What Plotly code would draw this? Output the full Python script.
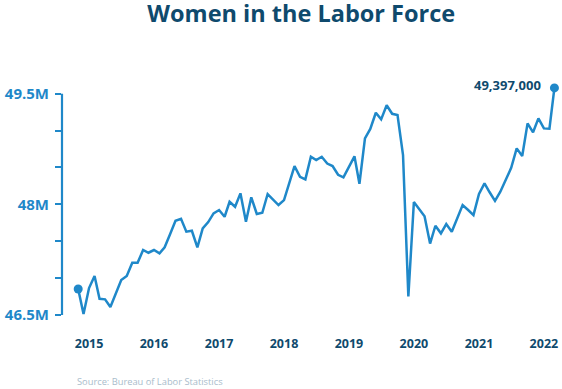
import pandas as pd
import plotly.graph_objects as go

# ---- data (millions), monthly ----
months = pd.date_range("2014-11-01", periods=89, freq="MS")
women_labor_force_m = [
    46.852, 46.513, 46.865, 47.028, 46.720, 46.712, 46.608, 46.798, 46.974, 47.028,
    47.208, 47.208, 47.381, 47.344, 47.381, 47.336, 47.417, 47.597, 47.778, 47.805,
    47.629, 47.642, 47.417, 47.675, 47.760, 47.878, 47.923, 47.832, 48.035, 47.967,
    48.149, 47.764, 48.095, 47.869, 47.886, 48.140, 48.065, 47.991, 48.058, 48.289,
    48.519, 48.374, 48.339, 48.645, 48.601, 48.645, 48.553, 48.519, 48.401, 48.366,
    48.508, 48.651, 48.279, 48.895, 49.023, 49.242, 49.152, 49.343, 49.228, 49.211,
    48.668, 46.750, 48.031, 47.936, 47.837, 47.469, 47.710, 47.607, 47.733, 47.629,
    47.809, 47.991, 47.923, 47.855, 48.142, 48.285, 48.167, 48.047, 48.171, 48.329,
    48.495, 48.759, 48.655, 49.098, 48.977, 49.166, 49.030, 49.025, 49.579,
]
y_tick_vals = [46.5, 47.0, 47.5, 48.0, 48.5, 49.0, 49.5]
y_tick_text = ["46.5M", "", "", "48M", "", "", "49.5M"]
x_tick_vals = ["2015-01-01", "2016-01-01", "2017-01-01", "2018-01-01",
               "2019-01-01", "2020-01-01", "2021-01-01", "2022-01-01"]
x_tick_text = ["2015", "2016", "2017", "2018", "2019", "2020", "2021", "2022"]
last_label = "49,397,000"
title_text = "Women in the Labor Force"
source_text = "Source: Bureau of Labor Statistics"

BLUE = "#1f88c9"
NAVY = "#0f4a6d"
FONT = "'Open Sans', Lato, sans-serif"

fig = go.Figure()
fig.add_trace(go.Scatter(
    x=months, y=women_labor_force_m, mode="lines",
    line=dict(color=BLUE, width=2.5), hoverinfo="skip", showlegend=False,
))
fig.add_trace(go.Scatter(
    x=[months[0], months[-1]], y=[women_labor_force_m[0], women_labor_force_m[-1]],
    mode="markers", marker=dict(color=BLUE, size=9), cliponaxis=False,
    hoverinfo="skip", showlegend=False,
))

fig.update_layout(
    width=562, height=389,
    margin=dict(l=61.5, r=1, t=80, b=69),
    paper_bgcolor="white", plot_bgcolor="white",
    font=dict(family=FONT),
    title=dict(text=f"<b>{title_text}</b>", x=0.536, xref="container", xanchor="center",
               y=1 - 13.5 / 389, yref="container", yanchor="middle",
               font=dict(size=23.5, color=NAVY, family=FONT)),
    xaxis=dict(
        range=["2014-08-02", "2022-04-07"], showgrid=False, zeroline=False, showline=False,
        ticks="", tickvals=x_tick_vals, ticktext=[f"<b>{t}</b>" for t in x_tick_text],
        tickfont=dict(size=12.5, color=NAVY, family=FONT), ticklabelstandoff=14,
    ),
    yaxis=dict(
        range=[46.432, 49.686], showgrid=False, zeroline=False, showline=False,
        tickvals=y_tick_vals, ticktext=[f"<b>{t}</b>" if t else "" for t in y_tick_text],
        ticks="outside", ticklen=6, tickwidth=2, tickcolor=BLUE,
        tickfont=dict(size=15, color=BLUE, family=FONT), ticklabelstandoff=3,
    ),
    shapes=[dict(type="line", xref="paper", x0=0, x1=0, yref="y",
                 y0=y_tick_vals[0], y1=y_tick_vals[-1], line=dict(color=BLUE, width=2.2))],
    annotations=[
        dict(x=months[-1], y=women_labor_force_m[-1], xref="x", yref="y",
             text=f"<b>{last_label}</b>", showarrow=False, xanchor="right", yanchor="middle",
             xshift=-11, yshift=3, font=dict(size=13, color=NAVY, family=FONT)),
        dict(x=(74.6 - 61.5) / 499.5, y=-0.258, xref="paper", yref="paper",
             text=source_text, showarrow=False, xanchor="left", yanchor="middle",
             font=dict(size=9.3, color="#a9bccb", family=FONT)),
    ],
)

fig.write_html(
    "out.html",
    config={"displayModeBar": False},
    post_script="document.body.style.margin='0';document.body.style.padding='0';",
)
